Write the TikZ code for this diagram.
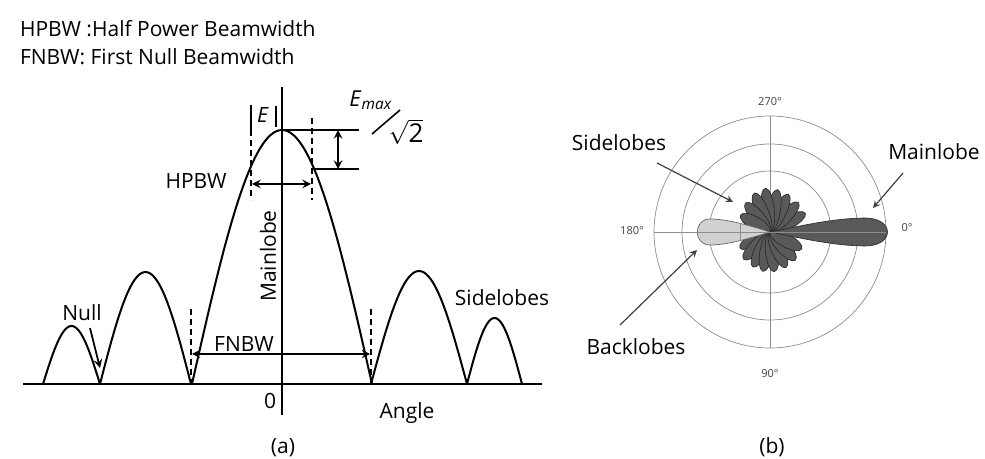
\documentclass[tikz,border=0pt]{standalone}
\usepackage{fontspec}
\setmainfont{Open Sans}
\begin{document}
\begin{tikzpicture}[x=0.5pt,y=-0.5pt,>=stealth,
  lbl/.style={font=\fontsize{10.5}{12}\selectfont},
  deg/.style={font=\fontsize{5.5}{6}\selectfont,text=black!75},
  curve/.style={line width=1pt},
  markline/.style={densely dashed,line width=0.7pt},
  grid/.style={black!45,line width=0.35pt},
  lobe/.style={fill=black!65,draw=black!85,line width=0.3pt},
  backlobe/.style={fill=black!18,draw=black!60,line width=0.35pt},
  ptr/.style={->,black!75,line width=0.6pt}]
\useasboundingbox (0,0) rectangle (985,459);
% legend
\node[lbl,anchor=base west] (hpdef) at (13,37) {HPBW :Half Power Beamwidth};
\node[lbl,anchor=base west] (fndef) at (13,65) {FNBW: First Null Beamwidth};
% (a) axes
\coordinate (xl) at (23,384);
\coordinate (xr) at (542,384);
\coordinate (yt) at (282,87);
\coordinate (yb) at (282,415);
\draw[line width=1.3pt] (xl) -- (xr);
\draw[line width=0.9pt] (yt) -- (yb);
% main lobe and side lobes
\draw[curve] plot[domain=-90:90,samples=61,smooth] ({282+\x},{384-254*cos(\x)});
\foreach \a/\b/\h in {43/100/58,100/191/112,371/467/113,467/522/66}
  \draw[curve] plot[domain=0:180,samples=41,smooth] ({\a+(\b-\a)*(\x/180)},{384-\h*sin(\x)});
% first nulls
\coordinate (n1t) at (191,309);
\coordinate (n1) at (191,384);
\coordinate (n2t) at (371,309);
\coordinate (n2) at (371,384);
\draw[markline] (n1t) -- (n1);
\draw[markline] (n2t) -- (n2);
\coordinate (f1) at (192,354);
\coordinate (f2) at (370,354);
\draw[<->,line width=0.8pt] (f1) -- (f2);
\node[lbl,anchor=base] (fnbw) at (244,352) {FNBW};
% half power
\coordinate (h1t) at (251,105);
\coordinate (h1m) at (251,130);
\coordinate (h1b) at (251,200);
\coordinate (h2t) at (312,118);
\coordinate (h2b) at (312,200);
\draw[line width=0.7pt] (h1t) -- (h1m);
\draw[markline] (h1m) -- (h1b);
\draw[markline] (h2t) -- (h2b);
\coordinate (hp1) at (252,184);
\coordinate (hp2) at (311,184);
\draw[<->,line width=0.9pt] (hp1) -- (hp2);
\node[lbl] (hpbw) at (196,181) {HPBW};
\coordinate (e1) at (276,106);
\coordinate (e2) at (276,127);
\draw[line width=0.7pt] (e1) -- (e2);
\node[lbl] (e) at (263,115) {\textit{E}};
\coordinate (pk) at (282,130);
\coordinate (pr) at (359,130);
\coordinate (hl) at (315,169);
\coordinate (hr) at (359,169);
\draw[line width=0.9pt] (pk) -- (pr);
\draw[line width=0.9pt] (hl) -- (hr);
\coordinate (d1) at (338,130);
\coordinate (d2) at (338,169);
\draw[<->,line width=0.9pt] (d1) -- (d2);
\node[lbl,font=\fontsize{11}{13}\selectfont] (emax) at (371,100) {\textit{E}\textsubscript{\textit{max}}};
\coordinate (s1) at (372,134);
\coordinate (s2) at (400,110);
\draw[line width=0.8pt] (s1) -- (s2);
\node[lbl,font=\fontsize{13}{15}\selectfont] (rt) at (406,132) {$\sqrt{\mbox{2}}$};
% labels of (a)
\node[lbl,rotate=90] (mainl) at (268,256) {Mainlobe};
\node[lbl] (null) at (82,313) {Null};
\coordinate (nulls) at (90,328);
\coordinate (nullpt) at (100,368);
\draw[->,line width=0.9pt] (nulls) -- (nullpt);
\node[lbl] (sidea) at (502,298) {Sidelobes};
\node[lbl] (zero) at (270,401) {0};
\node[lbl] (angle) at (407,413) {Angle};
\node[lbl] (capa) at (283,448) {(a)};
% (b) polar pattern
\begin{scope}[shift={(770,232)}]
\foreach \r in {61,88,116}
  \draw[grid] (0,0) circle ({\r*0.5pt});
\draw[grid] (0,-116) -- (0,116);
\foreach \a/\r in {28/40,46/41,64/42,80/43,96/44,112/42,130/38,150/34,208/34,226/38,244/39,260/40,276/40,294/39,312/38,332/36}
  \draw[lobe,rotate=\a] (\r/2,0) ellipse ({\r*0.25pt} and 3.3pt);
\draw[backlobe] (0,0) .. controls (-25,-8) and (-45,-13) .. (-60,-13)
  .. controls (-77,-13) and (-77,13) .. (-60,13)
  .. controls (-45,13) and (-25,8) .. (0,0);
\draw[grid] (-30,-9) -- (-30,9);
\draw[lobe] (0,0) .. controls (30,-6) and (65,-14) .. (95,-14)
  .. controls (125,-14) and (125,14) .. (95,14)
  .. controls (65,14) and (30,6) .. (0,0);
\draw[grid] (-116,0) -- (116,0);
\node[deg] (d270) at (0,-130) {270°};
\node[deg] (d90) at (0,142) {90°};
\node[deg] (d180) at (-138,-1) {180°};
\node[deg] (d0) at (137,-4) {0°};
\end{scope}
% labels of (b)
\node[lbl] (sideb) at (619,143) {Sidelobes};
\node[lbl] (mainb) at (934,152) {Mainlobe};
\node[lbl] (backb) at (636,347) {Backlobes};
\node[lbl] (capb) at (772,447) {(b)};
\coordinate (sa) at (657,163);
\coordinate (sb) at (733,202);
\coordinate (ma) at (903,173);
\coordinate (mb) at (873,208);
\coordinate (ba) at (620,325);
\coordinate (bb) at (697,250);
\draw[ptr] (sa) -- (sb);
\draw[ptr] (ma) -- (mb);
\draw[ptr] (ba) -- (bb);
\end{tikzpicture}
\end{document}
